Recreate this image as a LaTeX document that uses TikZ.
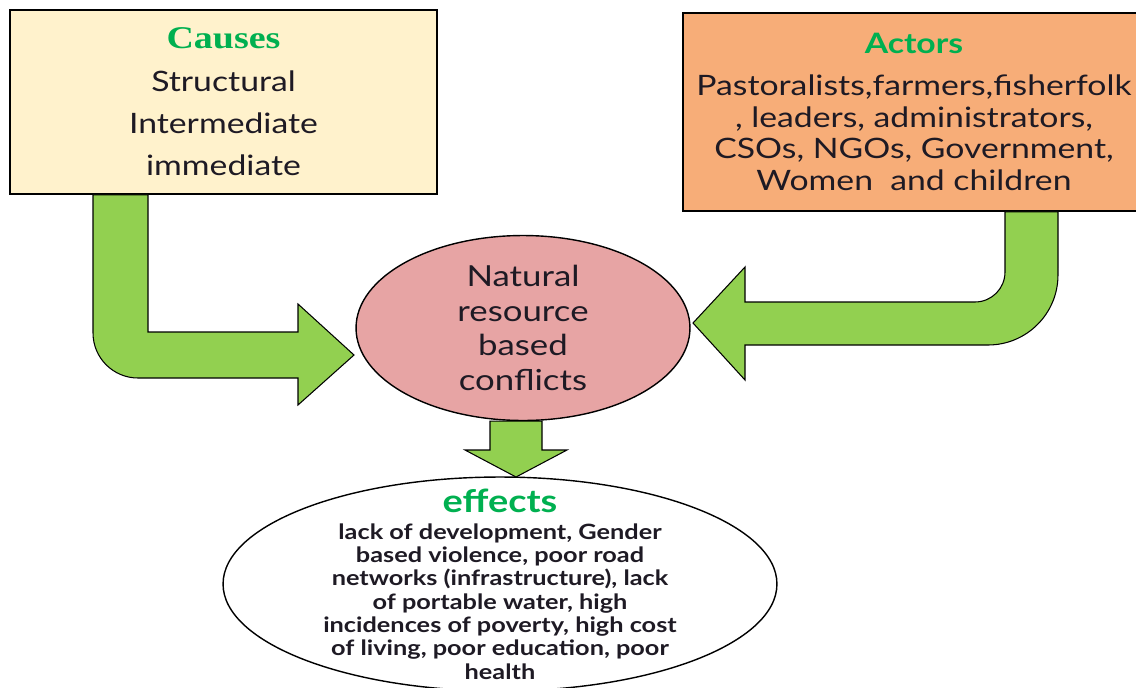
\documentclass[tikz,border=0pt]{standalone}
\usepackage{fontspec}
\setmainfont{Lato}[FakeStretch=1.2]
\newfontfamily\headserif{Liberation Serif}[FakeStretch=1.2]
\usetikzlibrary{shapes.geometric}
\definecolor{causesfill}{RGB}{255,242,204}
\definecolor{actorsfill}{RGB}{247,173,120}
\definecolor{conflictfill}{RGB}{231,164,164}
\definecolor{arrowgreen}{RGB}{146,208,80}
\definecolor{headgreen}{RGB}{0,176,80}
\definecolor{inkdark}{RGB}{30,26,36}
\begin{document}
\begin{tikzpicture}[x=0.02cm,y=-0.02cm,
 box/.style={draw,line width=1.1pt,rectangle,inner sep=0pt,align=center,text=inkdark},
 oval/.style={draw,line width=0.8pt,ellipse,inner sep=0pt},
 blockarrow/.style={draw,line width=0.6pt,fill=arrowgreen,line join=miter}]
\useasboundingbox (0,0) rectangle (1136,687);
\node[box,fill=causesfill,minimum width=8.54cm,minimum height=3.68cm,
 font=\fontsize{16}{24.1}\selectfont] (causes) at (223.5,102)
 {{\headserif\bfseries\fontsize{18}{18}\selectfont\color{headgreen}Causes}\\
 Structural\\ Intermediate\\ immediate};
\node[box,fill=actorsfill,minimum width=9.24cm,minimum height=3.96cm,
 font=\fontsize{16}{18.1}\selectfont] (actors) at (914,112)
 {{\bfseries\fontsize{16}{16}\selectfont\color{headgreen}Actors}\\[5.7pt]
 Pastoralists,farmers,fisherfolk\\ , leaders, administrators,\\
 CSOs, NGOs, Government,\\ Women \ and children};
\node[oval,fill=conflictfill,minimum width=6.68cm,minimum height=3.7cm,
 label={[align=center,text=inkdark,font=\fontsize{16.5}{19.8}\selectfont]center:{Natural\\ resource\\ based\\ conflicts}}]
 (conflict) at (523,328) {};
\node[oval,fill=white,minimum width=11.08cm,minimum height=4.28cm,
 label={[align=center,text=inkdark,font=\bfseries\fontsize{12}{13.3}\selectfont]center:{{\fontsize{18}{18}\selectfont\color{headgreen}effects}\\[2pt]
 lack of development, Gender\\ based violence, poor road\\
 networks (infrastructure), lack\\ of portable water, high\\
 incidences of poverty, high cost\\ of living, poor education, poor\\ health}}]
 (effects) at (500,584) {};
\draw[blockarrow] (148,0 |- causes.south) -- (148,332) -- (298,332) -- (298,304)
 -- (354,355) -- (298,405) -- (298,378) -- (138,378)
 arc[start angle=270,end angle=180,radius=0.9cm] -- (93,0 |- causes.south) -- cycle;
\draw[blockarrow] (1005,0 |- actors.south) -- (1005,272)
 arc[start angle=0,end angle=-90,radius=0.6cm] -- (745,302) -- (745,267)
 -- (693,323) -- (745,380) -- (745,345) -- (988,345)
 arc[start angle=-90,end angle=0,radius=1.4cm] -- (1058,0 |- actors.south) -- cycle;
\draw[blockarrow] (490,0 |- conflict.south) -- (490,450) -- (465,450) -- (516,477)
 -- (567,450) -- (542,450) -- (542,0 |- conflict.south) -- cycle;
\end{tikzpicture}
\end{document}
